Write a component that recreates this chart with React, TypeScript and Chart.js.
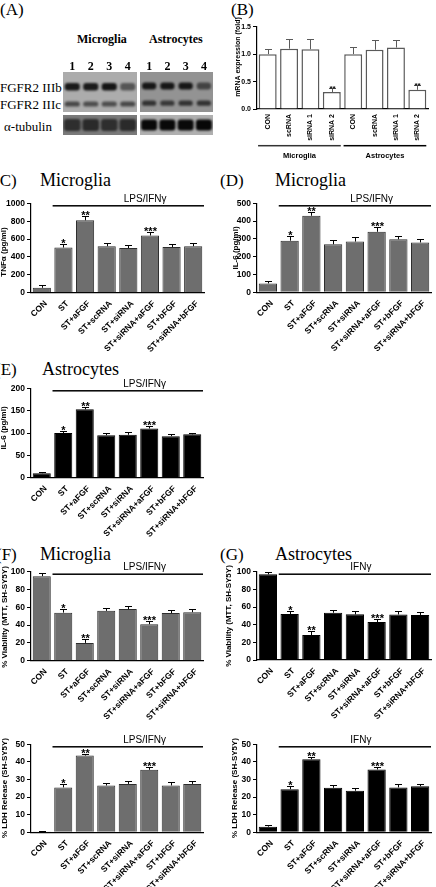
import React, { useEffect, useRef } from "react";
import { Chart, registerables } from "chart.js";
Chart.register(...registerables);

const SANS = "'Liberation Sans', Arial, sans-serif";
const SERIF = "'Liberation Serif', 'Times New Roman', serif";

// ---------------- data ----------------
const laneLabels = ["1", "2", "3", "4"];
const micIIIb = [0.85, 0.85, 0.88, 0.5];
const micIIIc = [0.58, 0.55, 0.55, 0.58];
const astIIIb = [0.85, 0.85, 0.85, 0.55];
const astIIIc = [0.66, 0.62, 0.66, 0.66];
const micTubulin = [0.62, 0.65, 0.62, 0.65];
const astTubulin = [0.95, 0.95, 0.95, 0.96];

const mrnaLabels = ["CON", "scRNA", "siRNA 1", "siRNA 2", "CON", "scRNA", "siRNA 1", "siRNA 2"];
const mrnaValues = [1.0, 1.1, 1.09, 0.31, 1.0, 1.08, 1.12, 0.35];
const mrnaErrors = [0.1, 0.18, 0.19, 0.07, 0.13, 0.17, 0.14, 0.09];
const mrnaStars = ["", "", "", "**", "", "", "", "**"];
const mrnaGroups = ["Microglia", "Astrocytes"];
const mrnaTicks = [0, 0.5, 1.0, 1.5];

const treatLabels = ["CON", "ST", "ST+aFGF", "ST+scRNA", "ST+siRNA", "ST+siRNA+aFGF", "ST+bFGF", "ST+siRNA+bFGF"];
const treatStars = ["", "*", "**", "", "", "***", "", ""];

const tnfMicValues = [55, 505, 810, 520, 500, 640, 510, 520];
const tnfMicErrors = [30, 40, 45, 38, 38, 38, 38, 38];
const tnfTicks = [0, 200, 400, 600, 800, 1000];

const il6MicValues = [50, 290, 430, 270, 285, 340, 298, 280];
const il6MicErrors = [15, 28, 22, 25, 28, 25, 18, 20];
const il6MicTicks = [0, 100, 200, 300, 400, 500];

const il6AstValues = [10, 100, 153, 95, 96, 110, 93, 97];
const il6AstErrors = [3, 5, 6, 5, 6, 6, 5, 3];
const il6AstTicks = [0, 50, 100, 150, 200];

const mttMicValues = [95, 54, 20, 56, 58, 41, 53.5, 54.5];
const mttMicErrors = [3, 4, 4, 3, 3.5, 3.5, 4, 4];
const mttAstValues = [97, 52, 28.3, 53.5, 51.7, 43, 51.5, 51];
const mttAstErrors = [2.5, 4, 4, 3.5, 3.5, 3.5, 3.5, 3];
const mttTicks = [0, 20, 40, 60, 80, 100];

const ldhMicValues = [0.4, 25.5, 43.6, 26.6, 27.5, 35.5, 26.6, 27.5];
const ldhMicErrors = [0.3, 2, 1, 1.3, 1.6, 1.7, 1.9, 1.9];
const ldhAstValues = [3.2, 24.5, 41.5, 25.3, 23.6, 35.7, 25.5, 26.2];
const ldhAstErrors = [0.9, 1.9, 1.3, 1.5, 1.7, 1.5, 2, 1.5];
const ldhTicks = [0, 10, 20, 30, 40, 50];

// ---------------- bar panels ----------------
type Spec = {
  left: number; top: number; width: number; height: number;
  area: { l: number; t: number; r: number; b: number };
  labels: string[]; values: number[]; errors: number[]; stars: string[];
  yTicks: number[]; decimals: number;
  fill: string; border: string; borderWidth: number; errColor: string;
  yTitle: string; titleX: number; titleY: number; titleFont: number;
  rotation: number; tickFont: number; labelFont: number; labelPad: number; labelOffset: number;
  starFont: number; barPct: number;
  treat?: string;
  groups?: string[];
};

function BarPanel({ spec }: { spec: Spec }) {
  const ref = useRef<HTMLCanvasElement>(null);
  useEffect(() => {
    const s = spec;
    const ox = s.left, oy = s.top;
    const a = { l: s.area.l - ox, t: s.area.t - oy, r: s.area.r - ox, b: s.area.b - oy };
    const overlay = {
      id: "overlay",
      afterDatasetsDraw(chart: any) {
        const ctx = chart.ctx;
        const ys = chart.scales.y;
        const meta = chart.getDatasetMeta(0);
        ctx.save();
        ctx.strokeStyle = s.errColor;
        ctx.lineWidth = 1;
        ctx.fillStyle = "#000";
        ctx.font = `bold ${s.starFont}px ${SANS}`;
        ctx.textAlign = "center";
        ctx.textBaseline = "alphabetic";
        meta.data.forEach((el: any, i: number) => {
          const x = Math.round(el.x) + 0.5;
          const top = el.y;
          const et = Math.round(ys.getPixelForValue(s.values[i] + s.errors[i])) + 0.5;
          ctx.beginPath();
          ctx.moveTo(x, top);
          ctx.lineTo(x, et);
          ctx.moveTo(x - 3.5, et);
          ctx.lineTo(x + 3.5, et);
          ctx.stroke();
          if (s.stars[i]) ctx.fillText(s.stars[i], x, et + 2.5);
        });
        ctx.restore();
      },
      afterDraw(chart: any) {
        const ctx = chart.ctx;
        const ca = chart.chartArea;
        const xs = chart.scales.x;
        const cw = xs.getPixelForValue(1) - xs.getPixelForValue(0);
        ctx.save();
        ctx.fillStyle = "#000";
        ctx.font = `bold ${s.titleFont}px ${SANS}`;
        ctx.translate(s.titleX - ox, s.titleY - oy);
        ctx.rotate(-Math.PI / 2);
        ctx.textAlign = "center";
        ctx.textBaseline = "middle";
        ctx.fillText(s.yTitle, 0, 0);
        ctx.restore();
        if (s.treat) {
          const x0 = xs.getPixelForValue(0) + cw / 2;
          const x1 = ca.right;
          const y = ca.top + 2.5;
          ctx.save();
          ctx.fillStyle = "#000";
          ctx.fillRect(x0, y - 0.75, x1 - x0, 1.5);
          ctx.font = `10px ${SANS}`;
          ctx.textAlign = "left";
          ctx.textBaseline = "middle";
          ctx.fillText(s.treat, x0 + 0.47 * (x1 - x0), y - 7);
          ctx.restore();
        }
        if (s.groups) {
          const n = s.labels.length / s.groups.length;
          ctx.save();
          ctx.font = `bold 7.5px ${SANS}`;
          ctx.textAlign = "center";
          ctx.textBaseline = "middle";
          s.groups.forEach((g, gi) => {
            const c0 = xs.getPixelForValue(gi * n);
            const c1 = xs.getPixelForValue(gi * n + n - 1);
            const x0 = c0 - 0.45 * cw;
            const x1 = c1 + 0.42 * cw;
            const y = ca.bottom + 36.7;
            ctx.fillStyle = gi === 0 ? "#333" : "#000";
            ctx.fillRect(x0, y - 0.75, x1 - x0, 1.5);
            ctx.fillStyle = "#000";
            ctx.fillText(g, (x0 + x1) / 2, y + 10.5);
          });
          ctx.restore();
        }
      },
    };
    const chart = new Chart(ref.current as HTMLCanvasElement, {
      type: "bar",
      data: {
        labels: s.labels,
        datasets: [
          {
            data: s.values,
            backgroundColor: s.fill,
            borderColor: s.border,
            borderWidth: s.borderWidth,
            barPercentage: s.barPct,
            categoryPercentage: 1,
          },
        ],
      },
      options: {
        animation: false,
        responsive: false,
        devicePixelRatio: 1,
        layout: { padding: { left: 0, top: a.t, right: s.width - a.r, bottom: 0 } },
        plugins: { legend: { display: false }, tooltip: { enabled: false } },
        scales: {
          x: {
            grid: { display: false, drawTicks: false },
            border: { display: true, color: "#000", width: 1.2 },
            ticks: {
              autoSkip: false,
              maxRotation: s.rotation,
              minRotation: s.rotation,
              padding: s.labelPad,
              labelOffset: s.labelOffset,
              color: "#000",
              font: { family: SANS, weight: "bold", size: s.labelFont },
            },
            afterFit: (sc: any) => {
              sc.height = s.height - a.b;
            },
          },
          y: {
            min: s.yTicks[0],
            max: s.yTicks[s.yTicks.length - 1],
            grid: { display: true, drawOnChartArea: false, drawTicks: true, tickLength: 4, color: "#000" },
            border: { display: true, color: "#000", width: 1.2 },
            ticks: {
              padding: 2,
              color: "#000",
              font: { family: SANS, weight: "bold", size: s.tickFont },
              callback: (v: any) => Number(v).toFixed(s.decimals),
            },
            afterBuildTicks: (sc: any) => {
              sc.ticks = s.yTicks.map((v) => ({ value: v }));
            },
            afterFit: (sc: any) => {
              sc.width = a.l;
            },
          },
        },
      } as any,
      plugins: [overlay],
    });
    return () => chart.destroy();
  }, []);
  return (
    <canvas
      ref={ref}
      width={spec.width}
      height={spec.height}
      style={{ position: "absolute", left: spec.left, top: spec.top, width: spec.width, height: spec.height }}
    />
  );
}

// ---------------- blot panels ----------------
type Row = { values: number[]; center: number; half: number };
function BlotPanel(props: {
  left: number; top: number; width: number; height: number; areaTop: number;
  bg: string; rows: Row[]; showLanes: boolean; bandPct: number;
}) {
  const ref = useRef<HTMLCanvasElement>(null);
  useEffect(() => {
    const p = props;
    const bgPlugin = {
      id: "blotbg",
      beforeDatasetsDraw(chart: any) {
        const ctx = chart.ctx;
        const ca = chart.chartArea;
        ctx.save();
        ctx.fillStyle = p.bg;
        ctx.fillRect(ca.left, ca.top, ca.right - ca.left, ca.bottom - ca.top);
        ctx.restore();
        ctx.save();
        ctx.filter = "blur(1px)";
      },
      afterDatasetsDraw(chart: any) {
        chart.ctx.restore();
      },
    };
    const chart = new Chart(ref.current as HTMLCanvasElement, {
      type: "bar",
      data: {
        labels: laneLabels,
        datasets: p.rows.map((r) => ({
          data: r.values.map(() => [r.center - r.half, r.center + r.half]),
          backgroundColor: r.values.map((v) => `rgba(0,0,0,${v})`),
          borderWidth: 0,
          borderRadius: 3,
          borderSkipped: false,
          barPercentage: p.bandPct,
          categoryPercentage: 1,
          grouped: false,
        })),
      },
      options: {
        animation: false,
        responsive: false,
        devicePixelRatio: 1,
        layout: { padding: 0 },
        plugins: { legend: { display: false }, tooltip: { enabled: false } },
        scales: {
          x: {
            position: "top",
            display: p.showLanes,
            grid: { display: false, drawTicks: false },
            border: { display: false },
            ticks: {
              padding: -1,
              color: "#000",
              font: { family: SERIF, weight: "bold", size: 12, lineHeight: 1 },
            },
            afterFit: (sc: any) => {
              sc.height = p.areaTop;
            },
          },
          y: { min: 0, max: 1, reverse: true, display: false },
        },
      } as any,
      plugins: [bgPlugin],
    });
    return () => chart.destroy();
  }, []);
  return (
    <canvas
      ref={ref}
      width={props.width}
      height={props.height}
      style={{ position: "absolute", left: props.left, top: props.top, width: props.width, height: props.height }}
    />
  );
}

// ---------------- text ----------------
function Txt(props: { x: number; y: number; text: string; size: number; bold?: boolean; family?: string }) {
  return (
    <div
      style={{
        position: "absolute",
        left: props.x,
        top: props.y,
        transform: "translateY(-50%)",
        fontFamily: props.family || SERIF,
        fontSize: props.size,
        fontWeight: props.bold ? "bold" : "normal",
        lineHeight: 1,
        whiteSpace: "nowrap",
        color: "#000",
      }}
    >
      {props.text}
    </div>
  );
}

const GRAY = "#6e6e6e";
const GRAY_B = "#2e2e2e";

function base(over: Partial<Spec>): Spec {
  return {
    left: 0, top: 0, width: 218, height: 170,
    area: { l: 31, t: 203, r: 204, b: 293 },
    labels: treatLabels, values: [], errors: [], stars: treatStars,
    yTicks: [0, 1], decimals: 0,
    fill: GRAY, border: GRAY_B, borderWidth: 1, errColor: "#000",
    yTitle: "", titleX: 4, titleY: 250, titleFont: 8,
    rotation: 45, tickFont: 8.5, labelFont: 8.5, labelPad: 6, labelOffset: 4,
    starFont: 11, barPct: 0.84,
    ...over,
  } as Spec;
}

const specs: Spec[] = [
  base({
    left: 218, top: 15, width: 218, height: 155,
    area: { l: 257, t: 26.7, r: 428, b: 109 },
    labels: mrnaLabels, values: mrnaValues, errors: mrnaErrors, stars: mrnaStars,
    yTicks: mrnaTicks, decimals: 1,
    fill: "#ffffff", border: "#5a5a5a", borderWidth: 1.5, errColor: "#5a5a5a",
    yTitle: "mRNA expression (fold)", titleX: 238, titleY: 57, titleFont: 7,
    rotation: 90, tickFont: 7, labelFont: 7, labelPad: 5, labelOffset: 0, starFont: 8, groups: mrnaGroups,
  }),
  base({
    left: 0, top: 190, area: { l: 31, t: 203.3, r: 204, b: 292.7 },
    values: tnfMicValues, errors: tnfMicErrors, yTicks: tnfTicks,
    yTitle: "TNFα (pg/ml)", titleX: 4, titleY: 252, treat: "LPS/IFNγ",
  }),
  base({
    left: 218, top: 190, area: { l: 257, t: 203.3, r: 431, b: 292.3 },
    values: il6MicValues, errors: il6MicErrors, yTicks: il6MicTicks,
    yTitle: "IL-6 (pg/ml)", titleX: 236, titleY: 248, treat: "LPS/IFNγ",
  }),
  base({
    left: 0, top: 375, area: { l: 31, t: 388.3, r: 203, b: 477.7 },
    values: il6AstValues, errors: il6AstErrors, yTicks: il6AstTicks,
    fill: "#000", border: "#000",
    yTitle: "IL-6 (pg/ml)", titleX: 4, titleY: 428, treat: "LPS/IFNγ",
  }),
  base({
    left: 0, top: 558, height: 162, area: { l: 31, t: 571.7, r: 203, b: 660.7 },
    values: mttMicValues, errors: mttMicErrors, yTicks: mttTicks,
    yTitle: "% Viability (MTT, SH-SY5Y)", titleX: 5, titleY: 617, treat: "LPS/IFNγ",
  }),
  base({
    left: 218, top: 558, height: 162, area: { l: 257, t: 571.7, r: 431, b: 660 },
    values: mttAstValues, errors: mttAstErrors, yTicks: mttTicks,
    fill: "#000", border: "#000",
    yTitle: "% Viability (MTT, SH-SY5Y)", titleX: 229, titleY: 616, treat: "IFNγ",
  }),
  base({
    left: 0, top: 731, height: 156, area: { l: 31, t: 744.3, r: 203, b: 832.3 },
    values: ldhMicValues, errors: ldhMicErrors, yTicks: ldhTicks,
    yTitle: "% LDH Release (SH-SY5Y)", titleX: 5, titleY: 788, treat: "LPS/IFNγ",
  }),
  base({
    left: 218, top: 731, height: 156, area: { l: 257, t: 744.3, r: 431, b: 832.3 },
    values: ldhAstValues, errors: ldhAstErrors, yTicks: ldhTicks,
    fill: "#000", border: "#000",
    yTitle: "% LDH Release (SH-SY5Y)", titleX: 235, titleY: 788, treat: "IFNγ",
  }),
];

export default function App() {
  return (
    <div
      style={{
        position: "absolute", left: 0, top: 0, width: 436, height: 887,
        overflow: "hidden", background: "#fff",
      }}
    >
      {/* Panel A */}
      <Txt x={0} y={9} text="(A)" size={17} />
      <Txt x={77} y={39} text="Microglia" size={12} bold />
      <Txt x={149} y={39} text="Astrocytes" size={12} bold />
      <Txt x={0} y={86.5} text="FGFR2 IIIb" size={13} />
      <Txt x={0} y={103.5} text="FGFR2 IIIc" size={13} />
      <Txt x={4} y={126} text="α-tubulin" size={13} />
      <BlotPanel left={63} top={58} width={74} height={54} areaTop={14} bg="#acacac" showLanes bandPct={0.82}
        rows={[{ values: micIIIb, center: 0.37, half: 0.095 }, { values: micIIIc, center: 0.8, half: 0.065 }]} />
      <BlotPanel left={140} top={58} width={73} height={54} areaTop={14} bg="#939393" showLanes bandPct={0.78}
        rows={[{ values: astIIIb, center: 0.35, half: 0.09 }, { values: astIIIc, center: 0.78, half: 0.065 }]} />
      <BlotPanel left={63} top={115} width={74} height={20} areaTop={0} bg="#7a7a7a" showLanes={false} bandPct={0.9}
        rows={[{ values: micTubulin, center: 0.5, half: 0.3 }]} />
      <BlotPanel left={140} top={115} width={73} height={20} areaTop={0} bg="#b0b0b0" showLanes={false} bandPct={0.88}
        rows={[{ values: astTubulin, center: 0.5, half: 0.28 }]} />

      {/* Panel titles */}
      <Txt x={231} y={9} text="(B)" size={17} />
      <Txt x={-6} y={180} text="(C)" size={17} />
      <Txt x={40} y={180} text="Microglia" size={18} />
      <Txt x={220} y={180} text="(D)" size={17} />
      <Txt x={275} y={180} text="Microglia" size={18} />
      <Txt x={-5} y={369} text="(E)" size={17} />
      <Txt x={42} y={369} text="Astrocytes" size={18} />
      <Txt x={-4} y={554} text="(F)" size={17} />
      <Txt x={40} y={554} text="Microglia" size={18} />
      <Txt x={220} y={554} text="(G)" size={17} />
      <Txt x={275} y={554} text="Astrocytes" size={18} />

      {specs.map((s, i) => (
        <BarPanel key={i} spec={s} />
      ))}
    </div>
  );
}
